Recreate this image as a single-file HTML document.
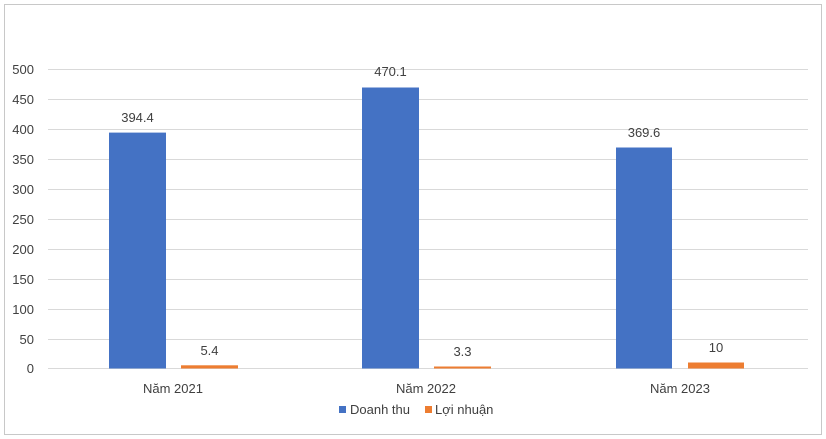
<!DOCTYPE html>
<html><head><meta charset="utf-8"><style>
body{margin:0;background:#fff;}
svg{display:block;font-family:"Liberation Sans",sans-serif;}
</style></head><body>
<svg width="826" height="439" xmlns="http://www.w3.org/2000/svg">
<rect x="4.5" y="4.5" width="817" height="430" fill="#fff" stroke="#c8c8c8"/>
<g stroke="#d9d9d9" stroke-width="1">
<line x1="48" x2="808" y1="69.5" y2="69.5"/>
<line x1="48" x2="808" y1="99.5" y2="99.5"/>
<line x1="48" x2="808" y1="129.5" y2="129.5"/>
<line x1="48" x2="808" y1="159.5" y2="159.5"/>
<line x1="48" x2="808" y1="189.5" y2="189.5"/>
<line x1="48" x2="808" y1="219.5" y2="219.5"/>
<line x1="48" x2="808" y1="249.5" y2="249.5"/>
<line x1="48" x2="808" y1="279.5" y2="279.5"/>
<line x1="48" x2="808" y1="309.5" y2="309.5"/>
<line x1="48" x2="808" y1="339.5" y2="339.5"/>
<line x1="48" x2="808" y1="368.5" y2="368.5"/>
</g>
<g fill="#404040" font-size="13" text-anchor="end">
<text x="34" y="74">500</text><text x="34" y="104">450</text><text x="34" y="134">400</text>
<text x="34" y="164">350</text><text x="34" y="194">300</text><text x="34" y="224">250</text>
<text x="34" y="254">200</text><text x="34" y="284">150</text><text x="34" y="314">100</text>
<text x="34" y="344">50</text><text x="34" y="373">0</text>
</g>
<g fill="#4472c4">
<rect x="109" y="132.6" width="57" height="235.9"/>
<rect x="362" y="87.5" width="57" height="281"/>
<rect x="616" y="147.5" width="56" height="221"/>
</g>
<g fill="#ed7d31">
<rect x="181" y="365.3" width="57" height="3.2"/>
<rect x="434" y="366.5" width="57" height="2"/>
<rect x="688" y="362.5" width="56" height="6"/>
</g>
<g fill="#404040" font-size="13" text-anchor="middle">
<text x="137.5" y="122">394.4</text>
<text x="390.5" y="76">470.1</text>
<text x="644" y="137">369.6</text>
<text x="209.5" y="355">5.4</text>
<text x="462.5" y="356">3.3</text>
<text x="716" y="352">10</text>
<text x="173" y="393">Năm 2021</text>
<text x="426" y="393">Năm 2022</text>
<text x="680" y="393">Năm 2023</text>
</g>
<rect x="339" y="406" width="7" height="7" fill="#4472c4"/>
<text x="350" y="414" font-size="13" fill="#404040">Doanh thu</text>
<rect x="425" y="406" width="7" height="7" fill="#ed7d31"/>
<text x="435" y="414" font-size="13" fill="#404040">Lợi nhuận</text>
</svg>
</body></html>
